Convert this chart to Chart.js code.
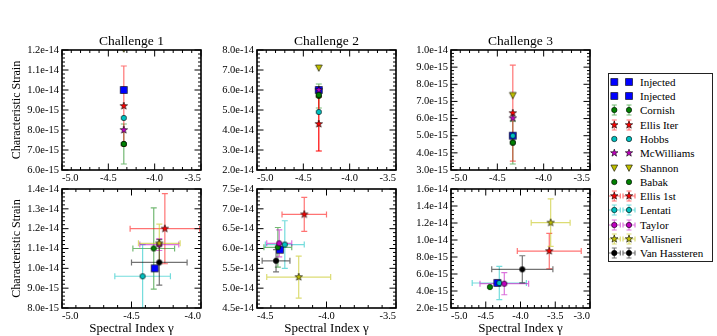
<!DOCTYPE html>
<html>
<head>
<meta charset="utf-8">
<script src="https://cdn.jsdelivr.net/npm/chart.js@4.4.1/dist/chart.umd.min.js"></script>
<style>
html,body{margin:0;padding:0;background:#fff;}
#wrap{position:relative;width:717px;height:336px;overflow:hidden;background:#fff;}
#wrap canvas.plot{position:absolute;left:0;top:0;}
#legend{position:absolute;left:608px;top:73px;width:105px;height:189px;border:1px solid #222;box-sizing:border-box;background:#fff;
  font-family:"Liberation Serif","Times New Roman",serif;font-size:11px;color:#000;}
#legend .row{position:absolute;left:0;width:103px;height:14px;line-height:14px;}
#legend .row canvas{position:absolute;left:0;top:0;}
#legend .row span{position:absolute;left:31px;top:0;white-space:nowrap;}
</style>
</head>
<body>
<div id="wrap"><div id="legend"></div></div>
<script>
// ---------------- DATA ----------------
const TOP_SERIES = ['Injected', 'Cornish', 'Ellis Iter', 'Hobbs', 'McWilliams', 'Shannon', 'Babak'];
const TOP_GAMMA = -4.333;
const CH1_TOP_STRAIN = [1.0e-14, 7.3e-15, 9.2e-15, 8.6e-15, 8.0e-15, 1.205e-14, 7.3e-15];
const CH1_TOP_ERR    = [null, 1.0e-15, 2.0e-15, null, null, null, null];
const CH2_TOP_STRAIN = [6.0e-14, 5.7e-14, 4.3e-14, 4.9e-14, 6.0e-14, 7.1e-14, 5.75e-14];
const CH2_TOP_ERR    = [null, 0.6e-14, 1.35e-14, null, null, null, null];
const CH3_TOP_STRAIN = [5.0e-15, 4.6e-15, 6.32e-15, 5.0e-15, 6.02e-15, 7.35e-15, 4.6e-15];
const CH3_TOP_ERR    = [null, 1.25e-15, 2.8e-15, null, null, null, null];

const BOTTOM_SERIES = ['Injected', 'Cornish', 'Ellis 1st', 'Lentati', 'Taylor', 'Vallisneri', 'Van Hassteren', 'Babak'];
const CH1_GAMMA     = [-4.333, -4.34, -4.26, -4.42, -4.30, -4.30, -4.30, null];
const CH1_GAMMA_ERR = [null, 0.15, 0.25, 0.20, 0.14, 0.15, 0.20, null];
const CH1_AMP       = [1.0e-14, 1.10e-14, 1.20e-14, 9.6e-15, 1.12e-14, 1.126e-14, 1.03e-14, null];
const CH1_AMP_ERR   = [null, 2.05e-15, 1.77e-15, 1.6e-15, 0.3e-15, 0.97e-15, 1.15e-15, null];

const CH2_GAMMA     = [-4.335, -4.35, -4.16, -4.30, -4.34, -4.20, -4.363, null];
const CH2_GAMMA_ERR = [null, 0.10, 0.16, 0.14, 0.09, 0.23, 0.10, null];
const CH2_AMP       = [5.97e-14, 6.03e-14, 6.86e-14, 6.1e-14, 6.13e-14, 5.28e-14, 5.69e-14, null];
const CH2_AMP_ERR   = [null, 0.5e-14, 0.43e-14, 0.6e-14, 0.34e-14, 0.53e-14, 0.28e-14, null];

const CH3_GAMMA     = [-4.333, null, -3.586, -4.305, -4.233, -3.566, -3.974, -4.44];
const CH3_GAMMA_ERR = [null, null, 0.46, 0.39, 0.35, 0.28, 0.44, null];
const CH3_AMP       = [4.95e-15, null, 8.7e-15, 4.94e-15, 4.86e-15, 1.204e-14, 6.55e-15, 4.47e-15];
const CH3_AMP_ERR   = [null, null, 2.08e-15, 1.96e-15, 1.3e-15, 2.8e-15, 1.6e-15, null];

const CHALLENGES = ['Challenge 1', 'Challenge 2', 'Challenge 3'];
const X_TICKS_TOP = [-5.0, -4.5, -4.0, -3.5];
const X_TICKS_CH1 = [-5.0, -4.5, -4.0];
const X_TICKS_CH2 = [-4.5, -4.0, -3.5];
const X_TICKS_CH3 = [-5.0, -4.5, -4.0, -3.5, -3.0];
const Y_TICKS_CH1_TOP = [6e-15, 7e-15, 8e-15, 9e-15, 1.0e-14, 1.1e-14, 1.2e-14];
const Y_TICKS_CH2_TOP = [2e-14, 3e-14, 4e-14, 5e-14, 6e-14, 7e-14, 8e-14];
const Y_TICKS_CH3_TOP = [3e-15, 4e-15, 5e-15, 6e-15, 7e-15, 8e-15, 9e-15, 1.0e-14];
const Y_TICKS_CH1_BOT = [8e-15, 9e-15, 1.0e-14, 1.1e-14, 1.2e-14, 1.3e-14, 1.4e-14];
const Y_TICKS_CH2_BOT = [4.5e-14, 5.0e-14, 5.5e-14, 6.0e-14, 6.5e-14, 7.0e-14, 7.5e-14];
const Y_TICKS_CH3_BOT = [2e-15, 4e-15, 6e-15, 8e-15, 1.0e-14, 1.2e-14, 1.4e-14, 1.6e-14];

const LEGEND_ENTRIES = ['Injected', 'Injected', 'Cornish', 'Ellis Iter', 'Hobbs', 'McWilliams', 'Shannon',
  'Babak', 'Ellis 1st', 'Lentati', 'Taylor', 'Vallisneri', 'Van Hassteren'];
const LEGEND_ERR = ['', '', 'y', 'y', '', '', '', '', 'xy', 'xy', 'xy', 'xy', 'xy'];

// ---------------- STYLE ----------------
const SERIF = '"Liberation Serif", "Times New Roman", serif';
const STYLE = {
  'Injected':      {shape: 'square', color: '#0000ff'},
  'Cornish':       {shape: 'circle', color: '#008000'},
  'Ellis Iter':    {shape: 'star',   color: '#ff0000'},
  'Hobbs':         {shape: 'circle', color: '#00bfbf'},
  'McWilliams':    {shape: 'star',   color: '#bf00bf'},
  'Shannon':       {shape: 'tri',    color: '#bfbf00'},
  'Babak':         {shape: 'circle', color: '#008000'},
  'Ellis 1st':     {shape: 'star',   color: '#ff0000'},
  'Lentati':       {shape: 'circle', color: '#00bfbf'},
  'Taylor':        {shape: 'circle', color: '#bf00bf'},
  'Vallisneri':    {shape: 'star',   color: '#bfbf00'},
  'Van Hassteren': {shape: 'circle', color: '#000000'}
};
const ERR_ALPHA = 0.55;

function rgba(hex, a) {
  const n = parseInt(hex.slice(1), 16);
  return `rgba(${(n >> 16) & 255},${(n >> 8) & 255},${n & 255},${a})`;
}

function drawShape(ctx, shape, color, cx, cy) {
  ctx.save();
  ctx.fillStyle = color;
  ctx.strokeStyle = '#000';
  ctx.lineWidth = 0.6;
  ctx.beginPath();
  if (shape === 'square') {
    ctx.rect(cx - 3.5, cy - 3.5, 7, 7);
  } else if (shape === 'circle') {
    ctx.arc(cx, cy, 2.7, 0, Math.PI * 2);
  } else if (shape === 'tri') {
    ctx.moveTo(cx - 3.4, cy - 3.0);
    ctx.lineTo(cx + 3.4, cy - 3.0);
    ctx.lineTo(cx, cy + 3.4);
    ctx.closePath();
  } else if (shape === 'star') {
    const R = 3.9, r = 1.6;
    for (let k = 0; k < 10; k++) {
      const ang = -Math.PI / 2 + k * Math.PI / 5;
      const rad = k % 2 === 0 ? R : r;
      const px = cx + rad * Math.cos(ang), py = cy + rad * Math.sin(ang);
      if (k === 0) ctx.moveTo(px, py); else ctx.lineTo(px, py);
    }
    ctx.closePath();
  }
  ctx.fill();
  ctx.stroke();
  ctx.restore();
}

const MARKERS = {};
Object.keys(STYLE).forEach(name => {
  const c = document.createElement('canvas');
  c.width = 14; c.height = 14;
  drawShape(c.getContext('2d'), STYLE[name].shape, STYLE[name].color, 7, 7);
  MARKERS[name] = c;
});

// ---------------- PLUGINS ----------------
const errorBarPlugin = {
  id: 'errorBars',
  beforeDatasetsDraw(chart) {
    const ctx = chart.ctx, a = chart.chartArea;
    const xs = chart.scales.x, ys = chart.scales.y;
    const cap = 3;
    ctx.save();
    ctx.beginPath();
    ctx.rect(a.left, a.top, a.right - a.left, a.bottom - a.top);
    ctx.clip();
    ctx.lineWidth = 1.2;
    chart.data.datasets.forEach(ds => {
      ctx.strokeStyle = ds.errColor;
      ds.data.forEach(p => {
        const px = xs.getPixelForValue(p.x), py = ys.getPixelForValue(p.y);
        ctx.beginPath();
        if (p.xerr) {
          const x1 = xs.getPixelForValue(p.x - p.xerr), x2 = xs.getPixelForValue(p.x + p.xerr);
          ctx.moveTo(x1, py); ctx.lineTo(x2, py);
          ctx.moveTo(x1, py - cap); ctx.lineTo(x1, py + cap);
          ctx.moveTo(x2, py - cap); ctx.lineTo(x2, py + cap);
        }
        if (p.yerr) {
          const y1 = ys.getPixelForValue(p.y - p.yerr), y2 = ys.getPixelForValue(p.y + p.yerr);
          ctx.moveTo(px, y1); ctx.lineTo(px, y2);
          ctx.moveTo(px - cap, y1); ctx.lineTo(px + cap, y1);
          ctx.moveTo(px - cap, y2); ctx.lineTo(px + cap, y2);
        }
        ctx.stroke();
      });
    });
    ctx.restore();
  }
};

const framePlugin = {
  id: 'frameTicks',
  afterDatasetsDraw(chart, args, opts) {
    const ctx = chart.ctx, a = chart.chartArea;
    const xs = chart.scales.x, ys = chart.scales.y;
    const MAJ = 6.5, MIN = 3;
    ctx.save();
    ctx.strokeStyle = '#000';
    ctx.lineWidth = 1;
    ctx.beginPath();
    const xT = xs.ticks.map(t => t.value), yT = ys.ticks.map(t => t.value);
    const vx = (v, len) => {
      const px = xs.getPixelForValue(v);
      ctx.moveTo(px, a.bottom); ctx.lineTo(px, a.bottom - len);
      ctx.moveTo(px, a.top); ctx.lineTo(px, a.top + len);
    };
    const hy = (v, len) => {
      const py = ys.getPixelForValue(v);
      ctx.moveTo(a.left, py); ctx.lineTo(a.left + len, py);
      ctx.moveTo(a.right, py); ctx.lineTo(a.right - len, py);
    };
    xT.forEach(v => vx(v, MAJ));
    yT.forEach(v => hy(v, MAJ));
    for (let i = 0; i < xT.length - 1; i++) {
      const st = (xT[i + 1] - xT[i]) / opts.xMinor;
      for (let k = 1; k < opts.xMinor; k++) vx(xT[i] + k * st, MIN);
    }
    for (let i = 0; i < yT.length - 1; i++) {
      const st = (yT[i + 1] - yT[i]) / opts.yMinor;
      for (let k = 1; k < opts.yMinor; k++) hy(yT[i] + k * st, MIN);
    }
    ctx.stroke();
    ctx.lineWidth = 1.6;
    ctx.strokeRect(a.left, a.top, a.right - a.left, a.bottom - a.top);
    ctx.restore();
  }
};

// ---------------- DATASETS ----------------
function topDatasets(strain, err, idx) {
  return TOP_SERIES.map((name, i) => ({
    label: name,
    data: strain[i] == null ? [] : [{x: TOP_GAMMA, y: strain[i], yerr: err[i]}],
    pointStyle: MARKERS[name],
    pointRadius: 5,
    order: -i,
    errColor: rgba(STYLE[name].color, (idx === 1 && name === 'Ellis Iter') ? 1 : ERR_ALPHA)
  }));
}
function bottomDatasets(g, ge, amp, ae) {
  return BOTTOM_SERIES.map((name, i) => ({
    label: name,
    data: g[i] == null ? [] : [{x: g[i], y: amp[i], xerr: ge[i], yerr: ae[i]}],
    pointStyle: MARKERS[name],
    pointRadius: 5,
    order: -i,
    errColor: rgba(STYLE[name].color, ERR_ALPHA)
  }));
}

const W = 717, H = 336, TITLE_LH = 13.5 * 1.2;
const PANELS = [
  {l: 62,  r: 201, t: 50,  b: 170, title: CHALLENGES[0], xT: X_TICKS_TOP, yT: Y_TICKS_CH1_TOP, yMinor: 5, left: true,  bottom: false, ds: topDatasets(CH1_TOP_STRAIN, CH1_TOP_ERR, 0)},
  {l: 257, r: 396, t: 50,  b: 170, title: CHALLENGES[1], xT: X_TICKS_TOP, yT: Y_TICKS_CH2_TOP, yMinor: 5, left: false, bottom: false, ds: topDatasets(CH2_TOP_STRAIN, CH2_TOP_ERR, 1)},
  {l: 451, r: 590, t: 50,  b: 170, title: CHALLENGES[2], xT: X_TICKS_TOP, yT: Y_TICKS_CH3_TOP, yMinor: 5, left: false, bottom: false, ds: topDatasets(CH3_TOP_STRAIN, CH3_TOP_ERR, 2)},
  {l: 62,  r: 201, t: 189, b: 308, title: null, xT: X_TICKS_CH1, yT: Y_TICKS_CH1_BOT, yMinor: 5, left: true,  bottom: true, ds: bottomDatasets(CH1_GAMMA, CH1_GAMMA_ERR, CH1_AMP, CH1_AMP_ERR)},
  {l: 257, r: 396, t: 189, b: 308, title: null, xT: X_TICKS_CH2, yT: Y_TICKS_CH2_BOT, yMinor: 5, left: false, bottom: true, ds: bottomDatasets(CH2_GAMMA, CH2_GAMMA_ERR, CH2_AMP, CH2_AMP_ERR)},
  {l: 451, r: 590, t: 189, b: 308, title: null, xT: X_TICKS_CH3, yT: Y_TICKS_CH3_BOT, yMinor: 4, left: false, bottom: true, ds: bottomDatasets(CH3_GAMMA, CH3_GAMMA_ERR, CH3_AMP, CH3_AMP_ERR)}
];

const wrap = document.getElementById('wrap');
PANELS.forEach(p => {
  const cv = document.createElement('canvas');
  cv.className = 'plot';
  cv.width = W; cv.height = H;
  wrap.insertBefore(cv, document.getElementById('legend'));
  const xH = p.bottom ? (H - p.b) : 20;
  const padBottom = H - p.b - xH;
  const padTop = p.title ? p.t - TITLE_LH : p.t;
  new Chart(cv.getContext('2d'), {
    type: 'scatter',
    data: {datasets: p.ds},
    plugins: [errorBarPlugin, framePlugin],
    options: {
      responsive: false,
      animation: false,
      devicePixelRatio: 1,
      events: [],
      layout: {padding: {left: 0, right: W - p.r, top: padTop, bottom: padBottom}},
      plugins: {
        legend: {display: false},
        tooltip: {enabled: false},
        title: {
          display: !!p.title, text: p.title || '', fullSize: false,
          padding: {top: 0, bottom: 0}, color: '#000',
          font: {family: SERIF, size: 13.5, weight: 'normal', lineHeight: 1.2}
        },
        frameTicks: {xMinor: 5, yMinor: p.yMinor}
      },
      scales: {
        x: {
          type: 'linear', position: 'bottom',
          min: p.xT[0], max: p.xT[p.xT.length - 1],
          afterBuildTicks: s => { s.ticks = p.xT.map(v => ({value: v})); },
          afterFit: s => { s.height = xH; s.paddingLeft = 0; s.paddingRight = 0; },
          grid: {display: false, drawTicks: false},
          border: {display: false},
          ticks: {
            autoSkip: false, maxRotation: 0, minRotation: 0, align: 'inner', padding: 2,
            color: '#000', font: {family: SERIF, size: 10.5},
            callback: v => Number(v).toFixed(1)
          },
          title: {
            display: p.bottom, text: 'Spectral Index γ', color: '#000',
            padding: {top: 0, bottom: 0},
            font: {family: SERIF, size: 13, lineHeight: 1.2}
          }
        },
        y: {
          type: 'linear', position: 'left',
          min: p.yT[0], max: p.yT[p.yT.length - 1],
          afterBuildTicks: s => { s.ticks = p.yT.map(v => ({value: v})); },
          afterFit: s => { s.width = p.l; s.paddingTop = 0; s.paddingBottom = 0; },
          grid: {display: false, drawTicks: false},
          border: {display: false},
          ticks: {
            autoSkip: false, padding: 3,
            color: '#000', font: {family: SERIF, size: 10.5},
            callback: v => Number(v).toExponential(1)
          },
          title: {
            display: p.left, text: 'Characteristic Strain', color: '#000',
            padding: {top: 9.5, bottom: 0},
            font: {family: SERIF, size: 12, lineHeight: 1.2}
          }
        }
      }
    }
  });
});

// ---------------- LEGEND ----------------
const legend = document.getElementById('legend');
LEGEND_ENTRIES.forEach((name, i) => {
  const row = document.createElement('div');
  row.className = 'row';
  row.style.top = (0.7 + 14.3 * i) + 'px';
  const c = document.createElement('canvas');
  c.width = 30; c.height = 14;
  const ctx = c.getContext('2d');
  const st = STYLE[name];
  [5.3, 20].forEach(cx => {
    const cy = 7;
    const err = LEGEND_ERR[i];
    if (err) {
      ctx.save();
      ctx.strokeStyle = rgba(st.color, ERR_ALPHA);
      ctx.lineWidth = 1.2;
      ctx.beginPath();
      ctx.moveTo(cx, cy - 5); ctx.lineTo(cx, cy + 5);
      ctx.moveTo(cx - 2.5, cy - 5); ctx.lineTo(cx + 2.5, cy - 5);
      ctx.moveTo(cx - 2.5, cy + 5); ctx.lineTo(cx + 2.5, cy + 5);
      if (err === 'xy') {
        ctx.moveTo(cx - 6, cy); ctx.lineTo(cx + 6, cy);
        ctx.moveTo(cx - 6, cy - 2.5); ctx.lineTo(cx - 6, cy + 2.5);
        ctx.moveTo(cx + 6, cy - 2.5); ctx.lineTo(cx + 6, cy + 2.5);
      }
      ctx.stroke();
      ctx.restore();
    }
    drawShape(ctx, st.shape, st.color, cx, cy);
  });
  const sp = document.createElement('span');
  sp.textContent = name;
  row.appendChild(c);
  row.appendChild(sp);
  legend.appendChild(row);
});
</script>
</body>
</html>
